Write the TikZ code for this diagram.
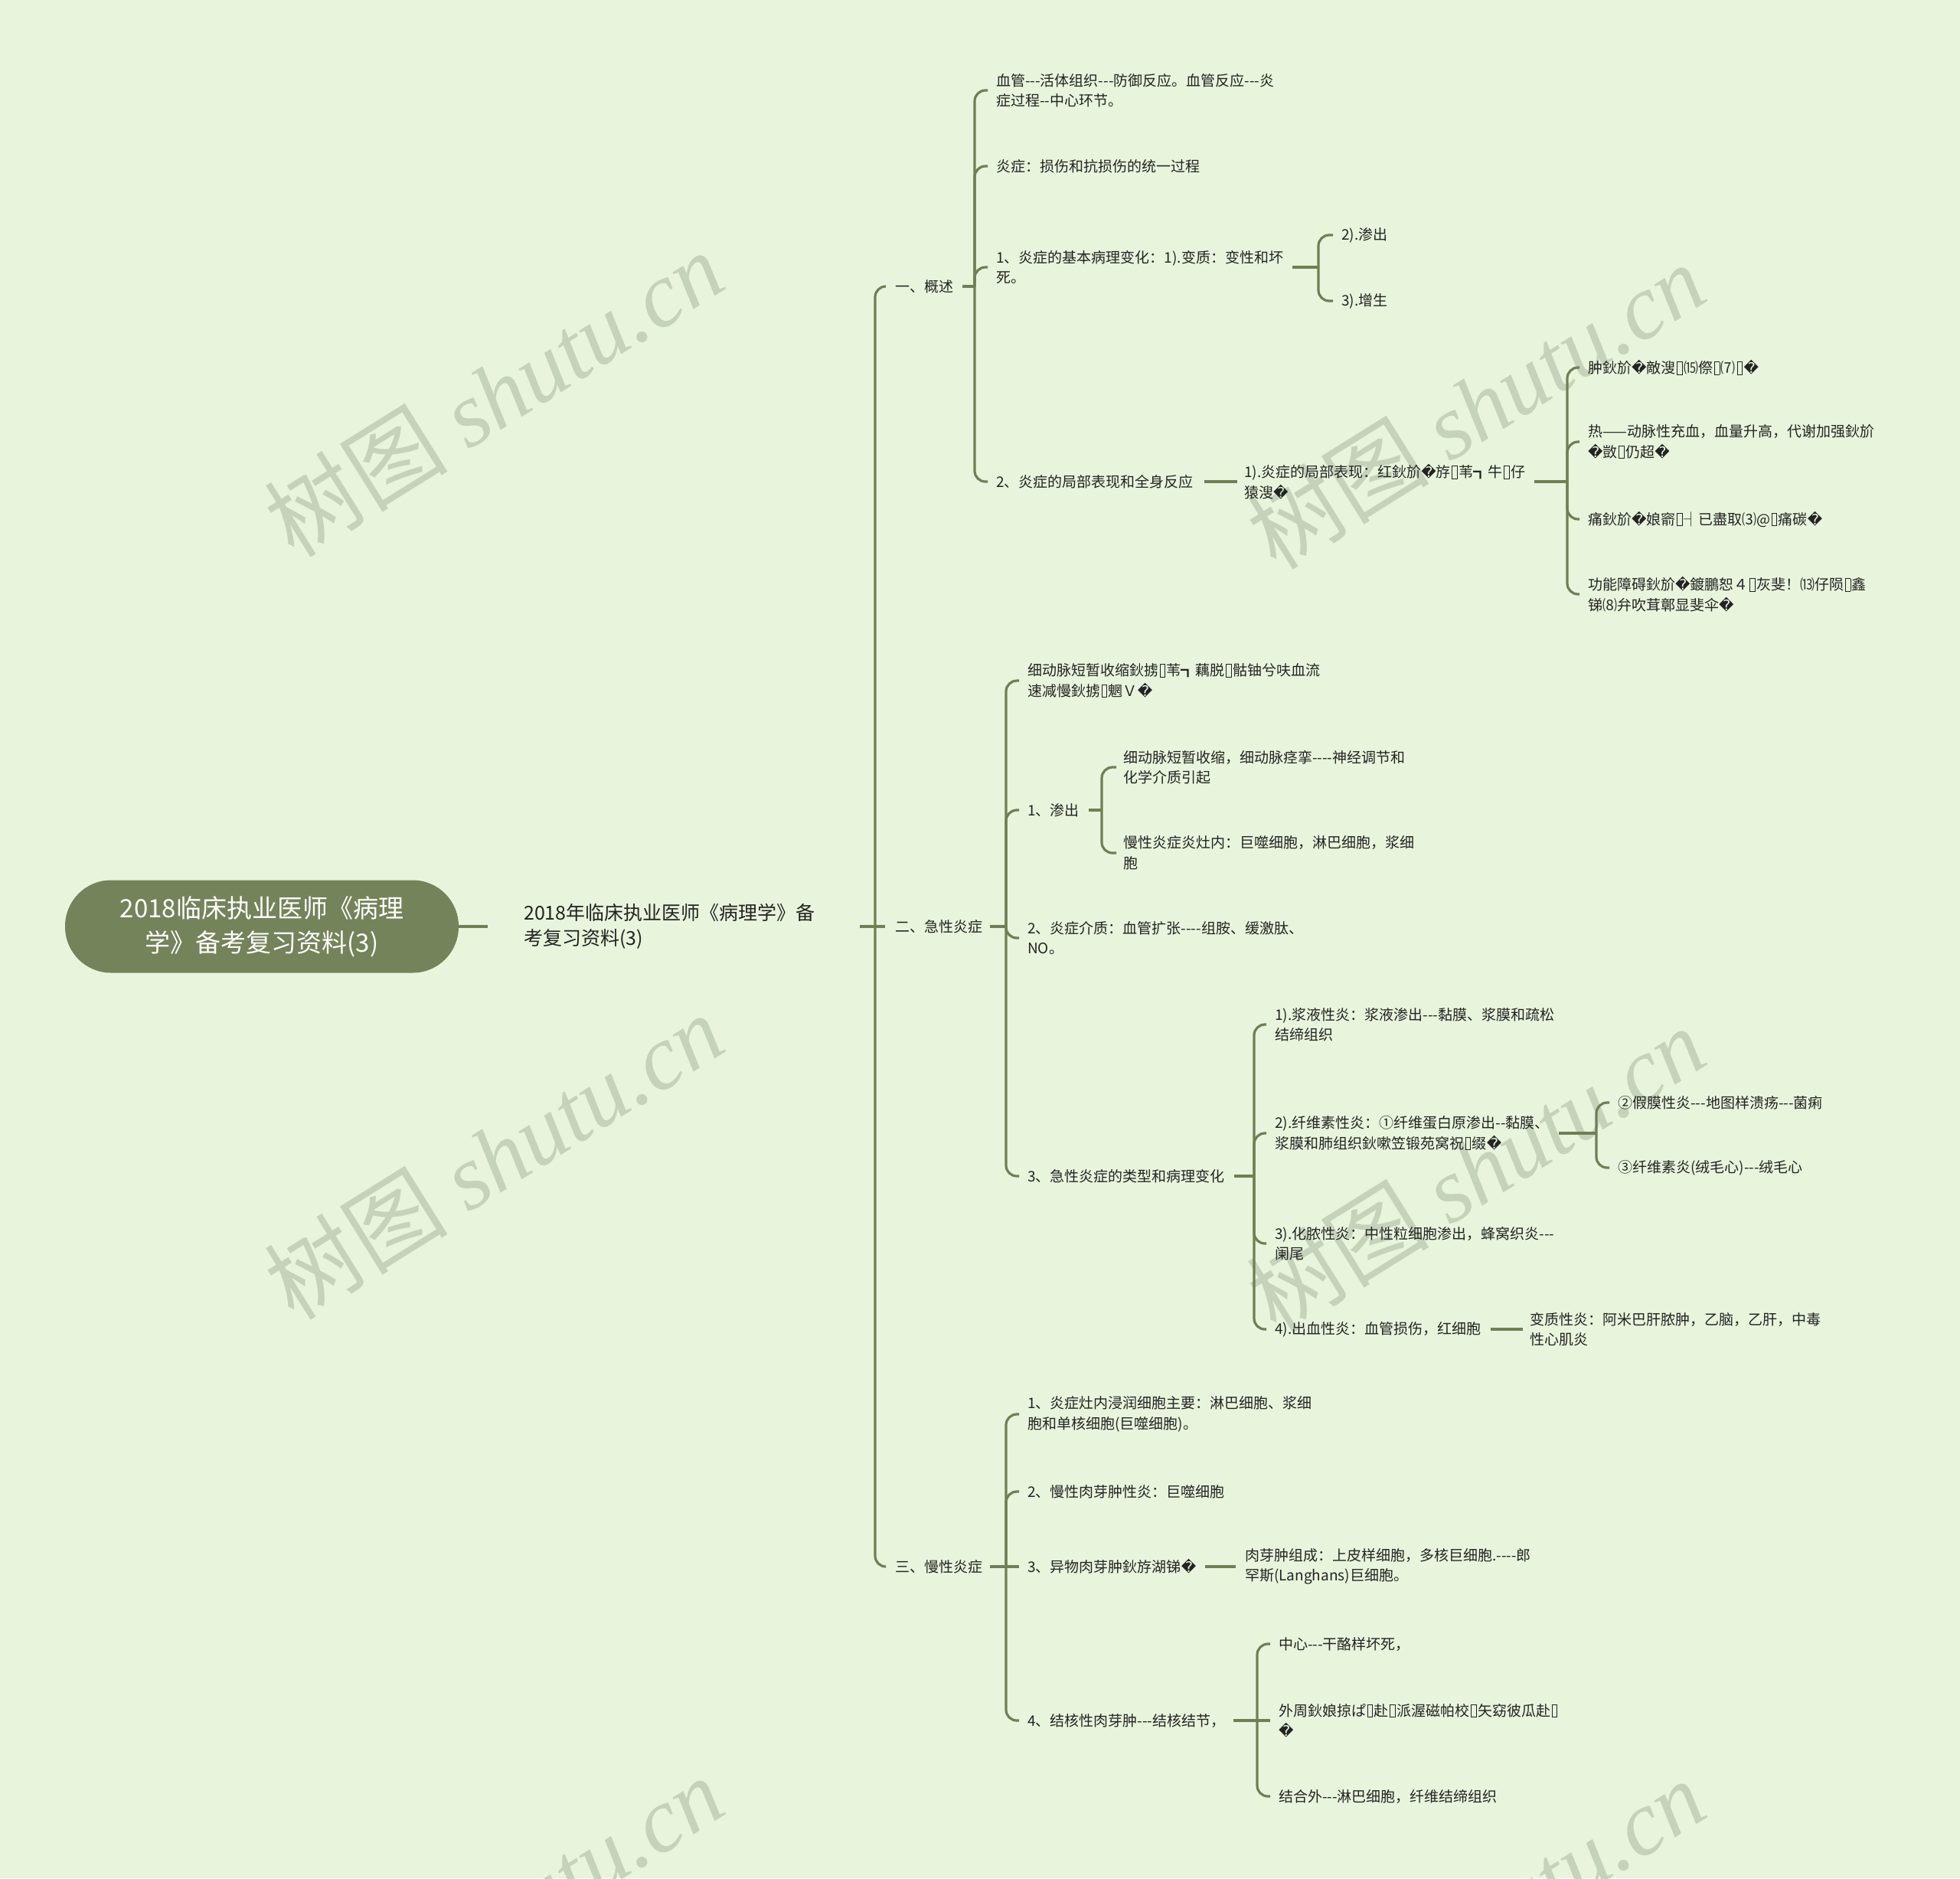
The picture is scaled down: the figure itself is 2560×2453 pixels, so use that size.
\documentclass[tikz,border=0pt]{standalone}
\usepackage{fontspec}
\setmainfont{Noto Sans CJK SC}[Ligatures=TeXOff]
\newfontfamily\dv{DejaVu Sans}
\newfontfamily\wmlat{Liberation Serif}
\usetikzlibrary{calc}
\definecolor{bg}{RGB}{232,245,220}
\definecolor{lc}{RGB}{112,127,84}
\definecolor{rootc}{RGB}{116,131,89}
\definecolor{wmc}{RGB}{198,211,187}
\definecolor{tx}{RGB}{35,35,35}
\newcommand{\Rp}{{\dv\symbol{"FFFD}}}
\newcommand{\Bx}{{\setlength{\fboxsep}{0pt}\setlength{\fboxrule}{0.05em}\kern0.08em\raisebox{-0.06em}{\fbox{\rule{0pt}{0.82em}\rule{0.3em}{0pt}}}\kern0.08em}}
\newcommand{\fs}{\fontsize{19}{26.5}\selectfont}
\tikzset{
  txt/.style={anchor=west, inner sep=0pt, align=left, font=\fs, text=tx},
  conn/.style={draw=lc, line width=3.2pt, rounded corners=14pt},
  wmk/.style={text=wmc, font=\fontsize{120}{130}\selectfont, rotate=32, inner sep=0pt},
}
\begin{document}
\begin{tikzpicture}[x=1pt,y=-1pt]
\useasboundingbox (0,0) rectangle (2560,2453);
\fill[bg] (0,0) rectangle (2560,2453);
\begin{scope}
\clip (0,0) rectangle (2560,2453);
\node[wmk] (wm1) at (645,514) {树图 {\wmlat\itshape shutu.cn}};
\node[wmk] (wm2) at (1927,530) {树图 {\wmlat\itshape shutu.cn}};
\node[wmk] (wm3) at (645,1510) {树图 {\wmlat\itshape shutu.cn}};
\node[wmk] (wm4) at (1927,1527) {树图 {\wmlat\itshape shutu.cn}};
\node[wmk] (wm5) at (645,2506) {树图 {\wmlat\itshape shutu.cn}};
\node[wmk] (wm6) at (1927,2510) {树图 {\wmlat\itshape shutu.cn}};
\end{scope}

% root and level 1
\node[fill=rootc, rounded corners=60pt, minimum width=514pt, minimum height=121pt, inner sep=0pt,
      text=white, align=center, font=\fontsize{33}{45}\selectfont] (root) at (342,1210)
      {2018临床执业医师《病理\\学》备考复习资料(3)};
\node[txt, font=\fontsize{25}{33}\selectfont] (l1) at (684,1210) {2018年临床执业医师《病理学》备\\考复习资料(3)};

% level 2
\node[txt] (a) at (1169,374) {一、概述};
\node[txt] (b) at (1169,1210) {二、急性炎症};
\node[txt] (c) at (1169,2046) {三、慢性炎症};

% 一 children
\node[txt] (a1) at (1301,118) {血管---活体组织---防御反应。血管反应---炎\\症过程--中心环节。};
\node[txt] (a2) at (1301,217) {炎症：损伤和抗损伤的统一过程};
\node[txt] (a3) at (1301,349) {1、炎症的基本病理变化：1).变质：变性和坏\\死。};
\node[txt] (a31) at (1752,307) {2).渗出};
\node[txt] (a32) at (1752,393) {3).增生};
\node[txt] (a4) at (1301,629) {2、炎症的局部表现和全身反应};
\node[txt] (a41) at (1625,629) {1).炎症的局部表现：红鈥斺\Rp 斿\Bx 苇┓牛\Bx 仔\\猿溲\Rp};
\node[txt] (a411) at (2074,480) {肿鈥斺\Rp 敵溲\Bx ⒂傺\Bx ⑺\Bx\Rp};
\node[txt] (a412) at (2074,577) {热——动脉性充血，血量升高，代谢加强鈥斺\\\Rp 敳\Bx 仍超\Rp};
\node[txt] (a413) at (2074,678) {痛鈥斺\Rp 娘窬\Bx ┤已盡取⑶@\Bx 痛碳\Rp};
\node[txt] (a414) at (2074,776) {功能障碍鈥斺\Rp 鍍鵬恕４\Bx 灰斐！⒀仔陨\Bx 鑫\\锑⑻弁吹茸鄣显斐伞\Rp};

% 二 children
\node[txt] (b1) at (1342,889) {细动脉短暂收缩鈥掳\Bx 苇┓藕脱\Bx 骷铀兮呋血流\\速减慢鈥掳\Bx 魍Ｖ\Rp};
\node[txt] (b2) at (1342,1058) {1、渗出};
\node[txt] (b21) at (1467,1002) {细动脉短暂收缩，细动脉痉挛----神经调节和\\化学介质引起};
\node[txt] (b22) at (1467,1114) {慢性炎症炎灶内：巨噬细胞，淋巴细胞，浆细\\胞};
\node[txt] (b3) at (1342,1225) {2、炎症介质：血管扩张----组胺、缓激肽、\\NO。};
\node[txt] (b4) at (1342,1536) {3、急性炎症的类型和病理变化};
\node[txt] (b41) at (1665,1338) {1).浆液性炎：浆液渗出---黏膜、浆膜和疏松\\结缔组织};
\node[txt] (b42) at (1665,1480) {2).纤维素性炎：①纤维蛋白原渗出--黏膜、\\浆膜和肺组织鈥嗽笠锻苑窝祝\Bx 缀\Rp};
\node[txt] (b421) at (2113,1440) {②假膜性炎---地图样溃疡---菌痢};
\node[txt] (b422) at (2113,1525) {③纤维素炎(绒毛心)---绒毛心};
\node[txt] (b43) at (1665,1624) {3).化脓性炎：中性粒细胞渗出，蜂窝织炎---\\阑尾};
\node[txt] (b44) at (1665,1736) {4).出血性炎：血管损伤，红细胞};
\node[txt] (b441) at (1998,1736) {变质性炎：阿米巴肝脓肿，乙脑，乙肝，中毒\\性心肌炎};

% 三 children
\node[txt] (c1) at (1342,1847) {1、炎症灶内浸润细胞主要：淋巴细胞、浆细\\胞和单核细胞(巨噬细胞)。};
\node[txt] (c2) at (1342,1948) {2、慢性肉芽肿性炎：巨噬细胞};
\node[txt] (c3) at (1342,2046) {3、异物肉芽肿鈥斿湖锑\Rp};
\node[txt] (c31) at (1626,2046) {肉芽肿组成：上皮样细胞，多核巨细胞.----郎\\罕斯(Langhans)巨细胞。};
\node[txt] (c4) at (1342,2247) {4、结核性肉芽肿---结核结节，};
\node[txt] (c41) at (1670,2147) {中心---干酪样坏死，};
\node[txt] (c42) at (1670,2247) {外周鈥娘掠ぱ\Bx 赴\Bx 派渥磁帕校\Bx 矢窈彼瓜赴\Bx\\\Rp};
\node[txt] (c43) at (1670,2346) {结合外---淋巴细胞，纤维结缔组织};

% junctions
\coordinate (J0) at (1143,1210);
\coordinate (J1) at (1273,374);
\coordinate (J11) at (1722,349);
\coordinate (J12) at (2047,629);
\coordinate (J2) at (1314,1210);
\coordinate (J21) at (1439,1058);
\coordinate (J23) at (1638,1536);
\coordinate (J232) at (2085,1480);
\coordinate (J3) at (1314,2046);
\coordinate (J34) at (1642,2247);

% connectors
\draw[conn] (root.east) -- ([xshift=-47]l1.west);
\draw[conn] ([xshift=58]l1.east) -- (J0);
\draw[conn] (J0) |- ([xshift=-13]a.west);
\draw[conn] (J0) -- ([xshift=-13]b.west);
\draw[conn] (J0) |- ([xshift=-13]c.west);

\draw[conn] ([xshift=12]a.east) -- (J1);
\foreach \n in {a1,a2,a3,a4} \draw[conn] (J1) |- ([xshift=-11]\n.west);
\draw[conn] ([xshift=12]a3.east) -- (J11);
\foreach \n in {a31,a32} \draw[conn] (J11) |- ([xshift=-11]\n.west);
\draw[conn] ([xshift=14]a4.east) -- ([xshift=-9]a41.west);
\draw[conn] ([xshift=12]a41.east) -- (J12);
\foreach \n in {a411,a412,a413,a414} \draw[conn] (J12) |- ([xshift=-11]\n.west);

\draw[conn] ([xshift=10]b.east) -- (J2);
\foreach \n in {b1,b2,b3,b4} \draw[conn] (J2) |- ([xshift=-11]\n.west);
\draw[conn] ([xshift=12]b2.east) -- (J21);
\foreach \n in {b21,b22} \draw[conn] (J21) |- ([xshift=-9]\n.west);
\draw[conn] ([xshift=12]b4.east) -- (J23);
\foreach \n in {b41,b42,b43,b44} \draw[conn] (J23) |- ([xshift=-11]\n.west);
\draw[conn] ([xshift=12]b42.east) -- (J232);
\foreach \n in {b421,b422} \draw[conn] (J232) |- ([xshift=-11]\n.west);
\draw[conn] ([xshift=12]b44.east) -- ([xshift=-9]b441.west);

\draw[conn] ([xshift=10]c.east) -- (J3);
\foreach \n in {c1,c2,c4} \draw[conn] (J3) |- ([xshift=-11]\n.west);
\draw[conn] (J3) -- ([xshift=-11]c3.west);
\draw[conn] ([xshift=12]c3.east) -- ([xshift=-12]c31.west);
\draw[conn] ([xshift=10]c4.east) -- (J34);
\foreach \n in {c41,c43} \draw[conn] (J34) |- ([xshift=-11]\n.west);
\draw[conn] (J34) -- ([xshift=-11]c42.west);
\end{tikzpicture}
\end{document}
